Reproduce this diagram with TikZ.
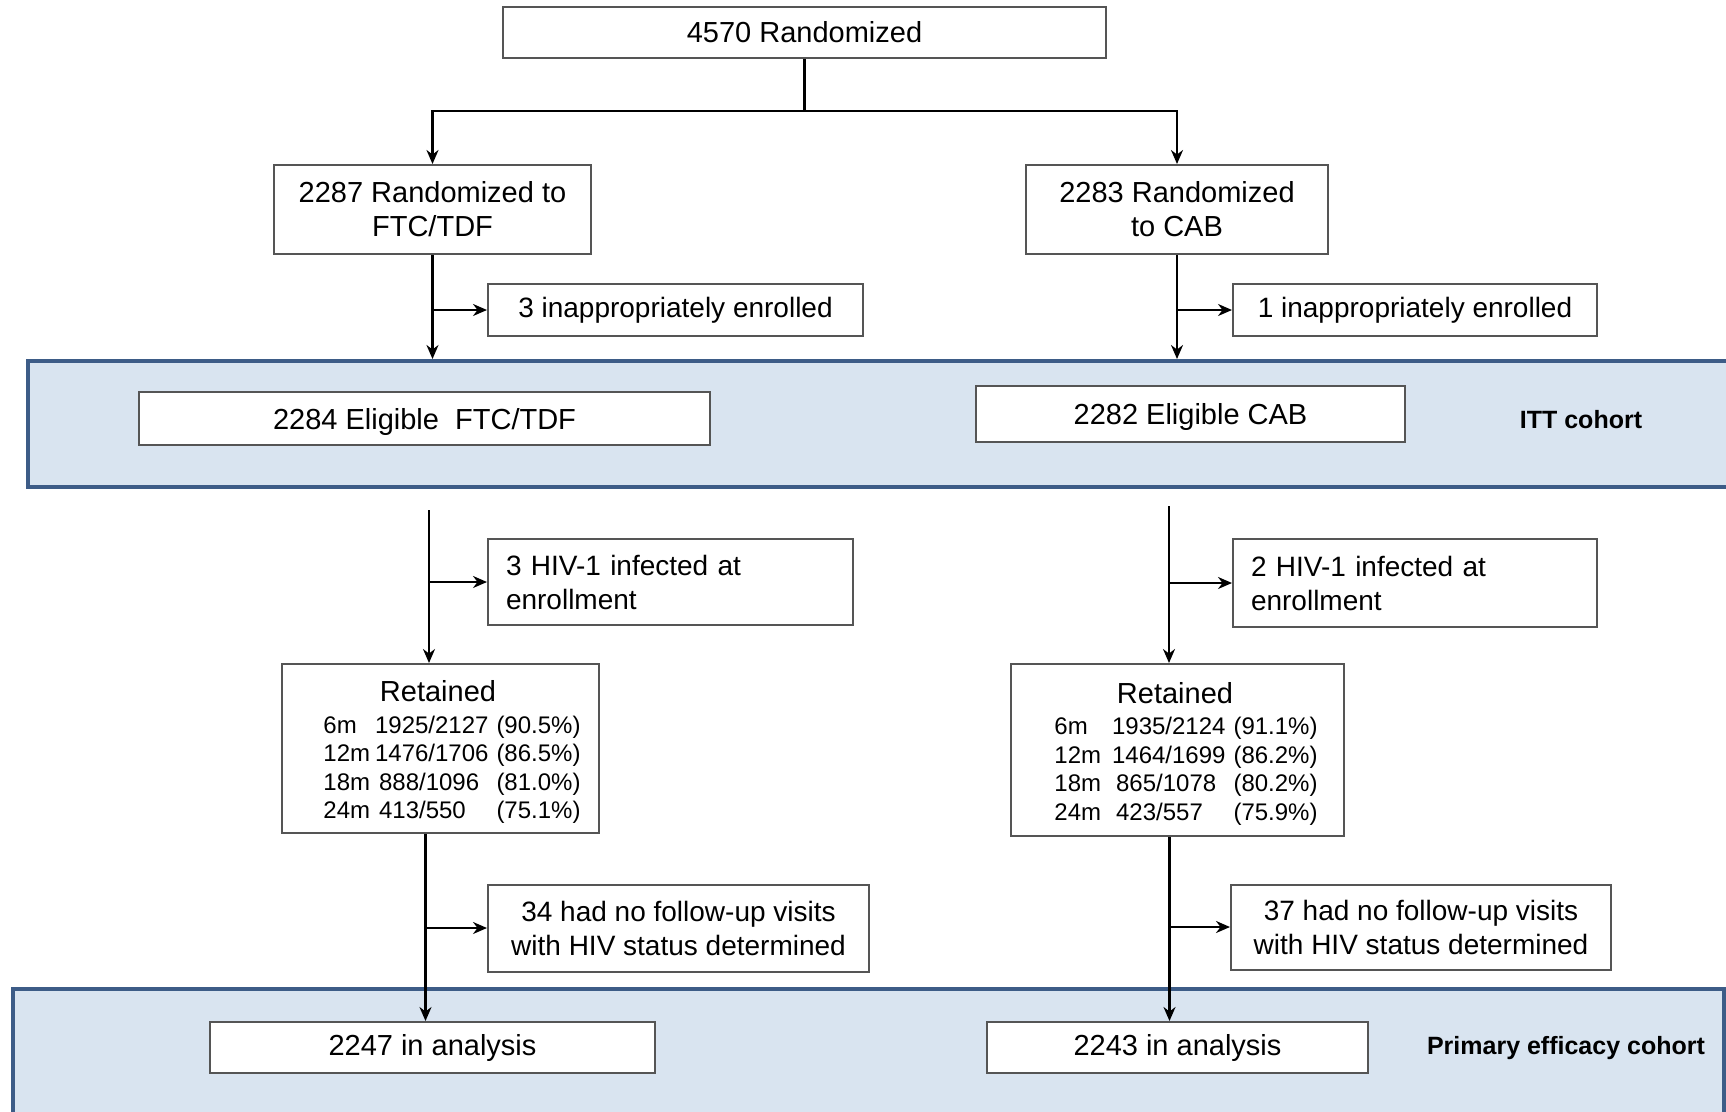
\documentclass[tikz,border=0pt]{standalone}
\usepackage{fontspec}
\setmainfont{Liberation Sans}
\usetikzlibrary{arrows.meta,calc}
\definecolor{bandfill}{HTML}{D9E4F0}
\definecolor{bandline}{HTML}{3D5C87}
\definecolor{boxline}{HTML}{555555}

\begin{document}
\begin{tikzpicture}[x=1pt,y=-1pt,
    box/.style={draw=boxline,line width=2pt,fill=white,inner sep=0pt,align=center,font=\fontsize{29}{34}\selectfont},
    small/.style={font=\fontsize{28}{34}\selectfont},
    band/.style={draw=bandline,line width=4pt,fill=bandfill,anchor=north west,inner sep=0pt},
    arr/.style={-{Stealth[length=14pt,width=12pt]},line width=2.2pt},
    cohort/.style={font=\fontsize{25}{30}\selectfont\bfseries}]
    \clip(0,0)rectangle(1726,1111);
    % cohort bands
    \node[band,minimum width=1740,minimum height=126](itt)at(26,359){};
    \node[band,minimum width=1711,minimum height=160](prim)at(11,987){};
    \node[cohort]at(1581,420){ITT cohort};
    \node[cohort]at(1566,1048){Primary efficacy cohort};
    % boxes
    \node[box,minimum width=603,minimum height=51](rand)at(804.5,32.5){4570 Randomized};
    \node[box,minimum width=317,minimum height=89](ftc)at(432.5,209.5){2287 Randomized to\\FTC/TDF};
    \node[box,minimum width=302,minimum height=89](cab)at(1177,209.5){2283 Randomized\\to CAB};
    \node[box,small,minimum width=375,minimum height=52](inappL)at(675.5,310){3 inappropriately enrolled};
    \node[box,small,minimum width=364,minimum height=52](inappR)at(1415,310){1 inappropriately enrolled};
    \node[box,minimum width=571,minimum height=53](eligL)at(424.5,418.5){\raisebox{-3pt}[\height][\depth]{2284 Eligible \ FTC/TDF}};
    \node[box,minimum width=429,minimum height=56](eligR)at(1190.5,414){\raisebox{-3pt}[\height][\depth]{2282 Eligible CAB}};
    \node[box,small,align=left,text width=329,minimum width=365,minimum height=86](hivL)at(670.5,582){3 HIV-1 infected at\\enrollment};
    \node[box,small,align=left,text width=328,minimum width=364,minimum height=88](hivR)at(1415,583){2 HIV-1 infected at\\enrollment};
    \node[box,font=\fontsize{24}{28.5}\selectfont,minimum width=317,minimum height=169](retL)at(440.5,748.5){%
        \raisebox{-5.5pt}[\height][\depth]{\begin{tabular}{@{\hspace{23pt}}l@{\hspace{5pt}}l@{\hspace{8pt}}l@{}}
        \multicolumn{3}{@{}c@{\hspace{5pt}}}{\fontsize{29}{34}\selectfont Retained}\\[3pt]
        6m & 1925/2127 & (90.5\%)\\
        12m & 1476/1706 & (86.5\%)\\
        18m & \,888/1096 & (81.0\%)\\
        24m & \,413/550 & (75.1\%)
        \end{tabular}}};
    \node[box,font=\fontsize{24}{28.5}\selectfont,minimum width=333,minimum height=172](retR)at(1177.5,750){%
        \raisebox{-5.5pt}[\height][\depth]{\begin{tabular}{@{\hspace{17pt}}l@{\hspace{11pt}}l@{\hspace{8pt}}l@{}}
        \multicolumn{3}{@{}c@{\hspace{5pt}}}{\fontsize{29}{34}\selectfont Retained}\\[3pt]
        6m & 1935/2124 & (91.1\%)\\
        12m & 1464/1699 & (86.2\%)\\
        18m & \,865/1078 & (80.2\%)\\
        24m & \,423/557 & (75.9\%)
        \end{tabular}}};
    \node[box,small,minimum width=381,minimum height=87](nofuL)at(678.5,928){34 had no follow-up visits\\with HIV status determined};
    \node[box,small,minimum width=380,minimum height=85](nofuR)at(1421,927){37 had no follow-up visits\\with HIV status determined};
    \node[box,minimum width=445,minimum height=51](anaL)at(432.5,1047.5){2247 in analysis};
    \node[box,minimum width=381,minimum height=51](anaR)at(1177.5,1047.5){2243 in analysis};
    % connectors
    \coordinate(split)at($(rand.south)+(0,52)$);
    \draw[line width=2.2pt](rand.south)--(split);
    \draw[arr](split)-|(ftc.north);
    \draw[arr](split)-|(cab.north);
    \draw[arr](ftc.south)--(ftc.south|-itt.north);
    \draw[arr](ftc.south|-inappL.west)--(inappL.west);
    \draw[arr](cab.south)--(cab.south|-itt.north);
    \draw[arr](cab.south|-inappR.west)--(inappR.west);
    \coordinate(topL)at(429,510);
    \coordinate(topR)at(1169,506);
    \draw[arr](topL)--(topL|-retL.north);
    \draw[arr](topL|-hivL.west)--(hivL.west);
    \draw[arr](topR)--(topR|-retR.north);
    \draw[arr](topR|-hivR.west)--(hivR.west);
    \coordinate(botL)at([xshift=-15pt]retL.south);
    \coordinate(botR)at([xshift=-8pt]retR.south);
    \draw[arr](botL)--(botL|-anaL.north);
    \draw[arr](botL|-nofuL.west)--(nofuL.west);
    \draw[arr](botR)--(botR|-anaR.north);
    \draw[arr](botR|-nofuR.west)--(nofuR.west);
\end{tikzpicture}
\end{document}
